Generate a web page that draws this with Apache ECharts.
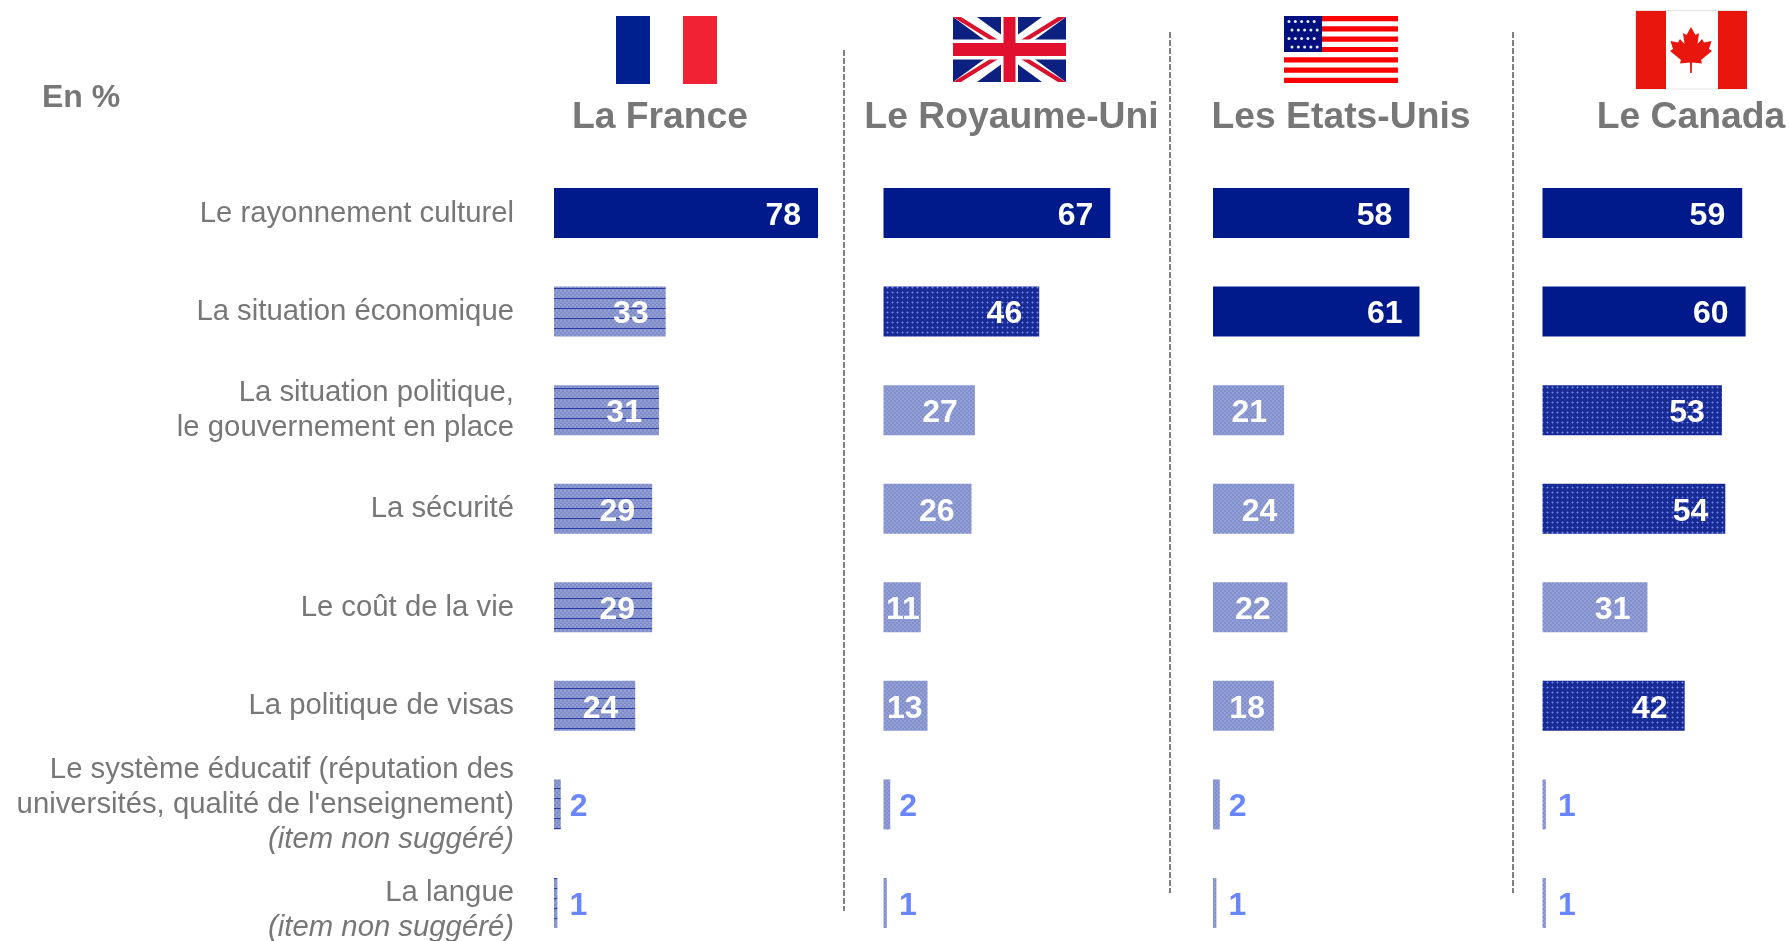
<!DOCTYPE html>
<html lang="fr">
<head>
<meta charset="UTF-8"/>
<title>En %</title>
<script src="https://cdn.jsdelivr.net/npm/echarts@6/dist/echarts.min.js"></script>
<style>
    html, body { margin: 0; padding: 0; background: #fff; overflow: hidden; }
    #main { width: 1789px; height: 941px; }
</style>
</head>
<body>
<div id="main"></div>
<script>
var categories = [
    'Le rayonnement culturel',
    'La situation économique',
    'La situation politique,\nle gouvernement en place',
    'La sécurité',
    'Le coût de la vie',
    'La politique de visas',
    "Le système éducatif (réputation des\nuniversités, qualité de l'enseignement)\n(item non suggéré)",
    'La langue\n(item non suggéré)'
];
var countries = ['La France', 'Le Royaume-Uni', 'Les Etats-Unis', 'Le Canada'];
var france = [78, 33, 31, 29, 29, 24, 2, 1];
var royaumeUni = [67, 46, 27, 26, 11, 13, 2, 1];
var etatsUnis = [58, 61, 21, 24, 22, 18, 2, 1];
var canada = [59, 60, 53, 54, 31, 42, 1, 1];

var allValues = [france, royaumeUni, etatsUnis, canada];
var gridLeft = [554, 883.5, 1213, 1542.5];
var axisMax = [80, 80, 80, 70];   // le Canada touche le bord de la page
var PX_PER_UNIT = 3.385;
var titleX = [660, 1011.5, 1341, 1691];
var FONT = '"Liberation Sans", Arial, sans-serif';
var GREY = '#777777';

// petites textures des barres
function tile(w, h, draw) {
    var c = document.createElement('canvas');
    c.width = w;
    c.height = h;
    draw(c.getContext('2d'));
    return { image: c, repeat: 'repeat' };
}
function checker(ctx, a, b) {
    ctx.fillStyle = a;
    ctx.fillRect(0, 0, 40, 40);
    ctx.fillStyle = b;
    for (var y = 0; y < 40; y += 2) {
        for (var x = y % 4 === 0 ? 0 : 2; x < 40; x += 4) ctx.fillRect(x, y, 2, 2);
    }
}
var solidFill = '#001a8c';
var lightFill = tile(4, 4, function (ctx) { checker(ctx, '#838fc8', '#939fd8'); });
var lineFill = tile(8, 10, function (ctx) {
    checker(ctx, '#7f8cc6', '#909cd4');
    ctx.fillStyle = '#2a3ca4';
    ctx.fillRect(0, 8, 8, 1);
});
var denseFill = tile(5, 5, function (ctx) {
    ctx.fillStyle = '#182a94';
    ctx.fillRect(0, 0, 5, 5);
    ctx.fillStyle = '#4258c4';
    ctx.fillRect(2, 1, 1, 3);
    ctx.fillRect(1, 2, 3, 1);
    ctx.fillStyle = '#6f84e4';
    ctx.fillRect(2, 2, 1, 1);
});

function barFill(v, col) {
    if (v >= 55) return solidFill;
    if (v >= 40) return denseFill;
    return col === 0 ? lineFill : lightFill;
}
function insideGap(v) {
    if (v >= 20) return 17;
    if (v >= 15) return 9;
    if (v >= 12) return 5;
    return 1;
}

var grids = [], xAxes = [], yAxes = [], series = [], titles = [];
allValues.forEach(function (values, i) {
    grids.push({ left: gridLeft[i], top: 213, width: axisMax[i] * PX_PER_UNIT, height: 690, outerBoundsMode: 'none' });
    xAxes.push({ gridIndex: i, type: 'value', min: 0, max: axisMax[i], show: false });
    yAxes.push({
        gridIndex: i,
        type: 'category',
        inverse: true,
        boundaryGap: false,
        data: i === 0 ? categories.map(function (c, k) {
            // le dernier libellé descend un peu sous sa barre
            return k === categories.length - 1 ? { value: c, textStyle: { padding: [14, 0, 0, 0] } } : c;
        }) : categories,
        axisLine: { show: false },
        axisTick: { show: false },
        axisLabel: {
            show: i === 0,
            margin: 40,
            align: 'right',
            padding: [1, 0, 0, 0],
            interval: 0,
            hideOverlap: false,
            showMinLabel: true,
            showMaxLabel: true,
            fontFamily: FONT,
            fontSize: 29.3,
            lineHeight: 35,
            color: GREY,
            formatter: function (s) {
                return s.split('\n').map(function (line) {
                    return line.indexOf('(item') === 0 ? '{it|' + line + '}' : '{re|' + line + '}';
                }).join('\n');
            },
            rich: {
                re: { fontFamily: FONT, fontSize: 29.3, lineHeight: 35, color: GREY },
                it: { fontFamily: FONT, fontSize: 29.3, lineHeight: 35, color: GREY, fontStyle: 'italic' }
            }
        }
    });
    series.push({
        type: 'bar',
        xAxisIndex: i,
        yAxisIndex: i,
        barWidth: 50,
        clip: false,
        silent: true,
        data: values.map(function (v) {
            var small = v < 5;
            return {
                value: v,
                itemStyle: { color: barFill(v, i) },
                label: {
                    show: true,
                    position: small ? 'right' : 'insideRight',
                    distance: small ? (v === 1 ? 12 : 9) : insideGap(v),
                    offset: [0, 3],
                    fontFamily: FONT,
                    fontSize: 32,
                    fontWeight: 'bold',
                    color: small ? '#6a86ff' : '#ffffff'
                }
            };
        })
    });
    titles.push({
        text: countries[i],
        left: titleX[i],
        top: 99,
        textAlign: 'center',
        padding: 0,
        textStyle: { fontFamily: FONT, fontSize: 37.3, fontWeight: 'bold', color: GREY }
    });
});
titles.push({
    text: 'En %',
    left: 42,
    top: 82,
    padding: 0,
    textStyle: { fontFamily: FONT, fontSize: 32, fontWeight: 'bold', color: GREY }
});

// drapeaux et séparateurs
function rect(x, y, w, h, fill) {
    return { type: 'rect', silent: true, shape: { x: x, y: y, width: w, height: h }, style: { fill: fill } };
}
function poly(points, fill) {
    return { type: 'polygon', silent: true, shape: { points: points }, style: { fill: fill } };
}
function divider(x, y1, y2) {
    return {
        type: 'line',
        silent: true,
        shape: { x1: x, y1: y1, x2: x, y2: y2 },
        style: { stroke: '#808080', lineWidth: 2, lineDash: [6, 2] }
    };
}
function frenchFlag() {
    return [rect(616, 16, 34, 68, '#00208f'), rect(683, 16, 34, 68, '#f02233')];
}
function britishFlag() {
    var x0 = 953, x1 = 1066, y0 = 17, y1 = 82, cx = (x0 + x1) / 2, cy = (y0 + y1) / 2;
    function diag(dx, fill) {
        return [
            poly([[x0, y0], [x0 + dx, y0], [x1, y1], [x1 - dx, y1]], fill),
            poly([[x1, y0], [x1 - dx, y0], [x0, y1], [x0 + dx, y1]], fill)
        ];
    }
    return [rect(x0, y0, x1 - x0, y1 - y0, '#0b2080')]
        .concat(diag(24, '#ffffff'))
        .concat(diag(8, '#d9122f'))
        .concat([
            rect(cx - 8.5, y0, 17, y1 - y0, '#ffffff'),
            rect(x0, cy - 10, x1 - x0, 20, '#ffffff'),
            rect(cx - 6, y0, 12, y1 - y0, '#e0102e'),
            rect(x0, cy - 6.5, x1 - x0, 13, '#e0102e')
        ]);
}
function americanFlag() {
    var x0 = 1284, w = 114, y0 = 16, h = 67, out = [], s = h / 13;
    for (var k = 0; k < 13; k += 2) out.push(rect(x0, y0 + k * s, w, s, '#ff0000'));
    out.push(rect(x0, y0, 38, 36, '#00107f'));
    for (var r = 0; r < 4; r++) {
        for (var c = 0; c < 5; c++) {
            out.push({
                type: 'circle',
                silent: true,
                shape: { cx: x0 + 5 + (r % 2) * 3 + c * 6.3, cy: y0 + 5.5 + r * 8.5, r: 1.5 },
                style: { fill: '#e8ecff' }
            });
        }
    }
    return out;
}
function canadianFlag() {
    var cx = 1691, top = 27;
    var half = [[0, 0], [4.5, 8], [8, 6], [6.5, 17], [11, 12], [13, 15.5], [20.5, 14], [18, 22], [21, 24], [10, 33], [11, 36.5], [1, 35.5], [0.8, 46]];
    var pts = half.map(function (p) { return [cx + p[0], top + p[1]]; });
    for (var i = half.length - 1; i > 0; i--) pts.push([cx - half[i][0], top + half[i][1]]);
    return [
        {
            type: 'rect',
            silent: true,
            shape: { x: 1635.5, y: 10.5, width: 111, height: 78.5 },
            style: { fill: '#ffffff', stroke: '#e2e6e2', lineWidth: 1 }
        },
        rect(1636, 11, 30, 78, '#e8160c'),
        rect(1718, 11, 29, 78, '#e8160c'),
        poly(pts, '#e8160c')
    ];
}

var graphics = [divider(844, 50, 911), divider(1170, 32, 893), divider(1513, 32, 893)]
    .concat(frenchFlag(), britishFlag(), americanFlag(), canadianFlag());

var myChart = echarts.init(document.getElementById('main'), null, { renderer: 'canvas' });
myChart.setOption({
    animation: false,
    backgroundColor: '#ffffff',
    title: titles,
    grid: grids,
    xAxis: xAxes,
    yAxis: yAxes,
    series: series,
    graphic: graphics
});
</script>
</body>
</html>
